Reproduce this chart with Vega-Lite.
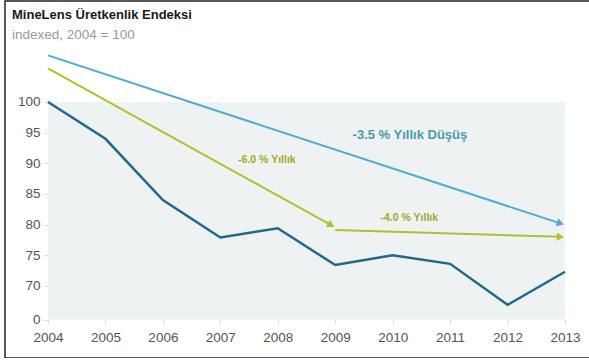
{
  "$schema": "https://vega.github.io/schema/vega-lite/v6.json",
  "autosize": {"type": "none"},
  "padding": {"left": 5, "top": 1, "right": 0, "bottom": 0},
  "width": 600,
  "height": 357,
  "background": "white",
  "config": {
    "view": {"stroke": "#222222", "strokeWidth": 1.5},
    "font": "Liberation Sans"
  },
  "title": {
    "text": "MineLens Üretkenlik Endeksi",
    "subtitle": "indexed, 2004 = 100",
    "anchor": "start",
    "frame": "group",
    "orient": "top",
    "offset": -40,
    "dx": 7,
    "font": "Liberation Sans",
    "fontSize": 13,
    "fontWeight": "bold",
    "color": "#1a1a1a",
    "subtitleFont": "Liberation Sans",
    "subtitleFontSize": 13.5,
    "subtitleColor": "#9a9a9a",
    "subtitlePadding": 6
  },
  "datasets": {
    "bg": [{"x0": 2004, "x1": 2013, "y0": 64.5, "y1": 100}],
    "index": [
      {"year": 2004, "value": 100},
      {"year": 2005, "value": 94.0},
      {"year": 2006, "value": 84.0},
      {"year": 2007, "value": 77.9},
      {"year": 2008, "value": 79.4},
      {"year": 2009, "value": 73.4},
      {"year": 2010, "value": 75.0},
      {"year": 2011, "value": 73.6},
      {"year": 2012, "value": 66.9},
      {"year": 2013, "value": 72.3}
    ],
    "arrows": [
      {"arrow": "A", "year": 2004, "value": 107.6},
      {"arrow": "A", "year": 2012.92, "value": 80.2},
      {"arrow": "B", "year": 2004, "value": 105.5},
      {"arrow": "B", "year": 2008.93, "value": 79.9},
      {"arrow": "C", "year": 2009.0, "value": 79.1},
      {"arrow": "C", "year": 2012.92, "value": 78.0}
    ],
    "heads": [
      {"arrow": "A", "year": 2012.92, "value": 80.2},
      {"arrow": "B", "year": 2008.93, "value": 79.9},
      {"arrow": "C", "year": 2012.92, "value": 78.0}
    ],
    "labels": [
      {"label": "-3.5 % Yıllık Düşüş", "group": "A", "year": 2010.3, "value": 94.6},
      {"label": "-6.0 % Yıllık", "group": "B", "year": 2007.81, "value": 90.5},
      {"label": "-4.0 % Yıllık", "group": "C", "year": 2010.29, "value": 81.1}
    ]
  },
  "encoding": {
    "x": {
      "field": "year",
      "type": "quantitative",
      "scale": {"domain": [2004, 2013], "range": [43, 560], "nice": false, "zero": false},
      "axis": {
        "values": [2004, 2005, 2006, 2007, 2008, 2009, 2010, 2011, 2012, 2013],
        "format": "d",
        "title": null,
        "offset": -38.4,
        "domain": false,
        "grid": false,
        "labelFlush": false,
        "labelOverlap": false,
        "tickSize": 4,
        "tickColor": "#dddddd",
        "labelPadding": 7,
        "labelFontSize": 13.5,
        "labelColor": "#555555",
        "labelFont": "Liberation Sans"
      }
    },
    "y": {
      "field": "value",
      "type": "quantitative",
      "scale": {"domain": [64.5, 110], "range": [318.6, 39.7], "nice": false, "zero": false},
      "axis": {
        "values": [64.5, 70, 75, 80, 85, 90, 95, 100],
        "labelExpr": "datum.value < 65 ? '0' : datum.label",
        "title": null,
        "offset": -43,
        "domain": false,
        "grid": false,
        "labelFlush": false,
        "labelOverlap": false,
        "tickSize": 4,
        "tickColor": "#dddddd",
        "labelPadding": 4,
        "labelFontSize": 13.5,
        "labelColor": "#555555",
        "labelFont": "Liberation Sans"
      }
    }
  },
  "layer": [
    {
      "data": {"name": "bg"},
      "mark": {"type": "rect", "color": "#eff2f2"},
      "encoding": {
        "x": {"field": "x0", "type": "quantitative"},
        "x2": {"field": "x1"},
        "y": {"field": "y0", "type": "quantitative"},
        "y2": {"field": "y1"}
      }
    },
    {
      "data": {"name": "index"},
      "mark": {"type": "line", "color": "#1f6a8c", "strokeWidth": 2.5},
      "encoding": {}
    },
    {
      "data": {"name": "arrows"},
      "transform": [{"filter": "datum.arrow == 'A'"}],
      "mark": {"type": "line", "color": "#4eaad9", "strokeWidth": 2},
      "encoding": {}
    },
    {
      "data": {"name": "arrows"},
      "transform": [{"filter": "datum.arrow != 'A'"}],
      "mark": {"type": "line", "color": "#b0c02c", "strokeWidth": 2},
      "encoding": {"detail": {"field": "arrow"}}
    },
    {
      "data": {"name": "heads"},
      "transform": [{"filter": "datum.arrow == 'A'"}],
      "mark": {"type": "point", "shape": "triangle-right", "filled": true, "opacity": 1, "color": "#4eaad9", "size": 70, "angle": 18},
      "encoding": {}
    },
    {
      "data": {"name": "heads"},
      "transform": [{"filter": "datum.arrow == 'B'"}],
      "mark": {"type": "point", "shape": "triangle-right", "filled": true, "opacity": 1, "color": "#b0c02c", "size": 70, "angle": 29},
      "encoding": {}
    },
    {
      "data": {"name": "heads"},
      "transform": [{"filter": "datum.arrow == 'C'"}],
      "mark": {"type": "point", "shape": "triangle-right", "filled": true, "opacity": 1, "color": "#b0c02c", "size": 70, "angle": 2},
      "encoding": {}
    },
    {
      "data": {"name": "labels"},
      "transform": [{"filter": "datum.group == 'A'"}],
      "mark": {"type": "text", "color": "#4a9ca8", "fontSize": 13, "fontWeight": "bold", "font": "Liberation Sans"},
      "encoding": {"text": {"field": "label"}}
    },
    {
      "data": {"name": "labels"},
      "transform": [{"filter": "datum.group != 'A'"}],
      "mark": {"type": "text", "color": "#a3a828", "fontSize": 10.5, "fontWeight": "bold", "font": "Liberation Sans"},
      "encoding": {"text": {"field": "label"}}
    }
  ]
}
